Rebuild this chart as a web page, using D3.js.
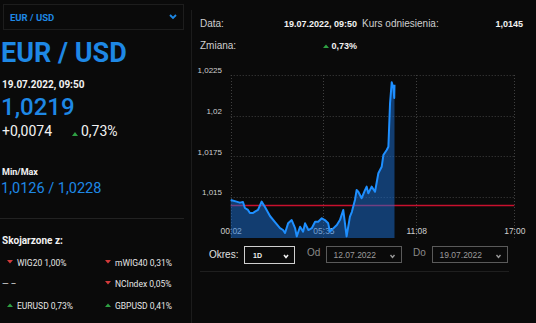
<!DOCTYPE html>
<html>
<head>
<meta charset="utf-8">
<script src="https://cdn.jsdelivr.net/npm/d3@7"></script>
<style>
  html, body { margin: 0; padding: 0; background: #0a0a0a; }
  svg { display: block; }
</style>
</head>
<body>
<svg id="view" width="536" height="323"></svg>
<script>
// Intraday EUR/USD quotes, 19.07.2022
const times = ["00:02","00:23","00:35","00:46","00:53","01:04","01:11","01:22","01:29","01:40",
  "01:53","02:05","02:23","02:41","02:59","03:10","03:17","03:28","03:41","03:53",
  "03:59","04:11","04:22","04:29","04:41","04:53","05:05","05:16","05:29","05:40",
  "05:52","05:58","06:23","06:34","06:46","06:58","07:10","07:17","07:28","07:34",
  "07:40","07:46","07:52","08:04","08:10","08:16","08:28","08:40","08:52","09:04",
  "09:10","09:22","09:28","09:34","09:40","09:46","09:49","09:50"];
const quotes = [1.01483,1.01473,1.01467,1.01471,1.01434,1.01422,1.01403,1.01403,1.01412,1.01422,
  1.01473,1.01440,1.01385,1.01348,1.01311,1.01299,1.01281,1.01340,1.01360,1.01311,
  1.01260,1.01319,1.01289,1.01340,1.01299,1.01310,1.01350,1.01350,1.01371,1.01360,
  1.01340,1.01289,1.01330,1.01360,1.01422,1.01260,1.01381,1.01411,1.01483,1.01544,
  1.01534,1.01514,1.01494,1.01544,1.01565,1.01524,1.01565,1.01534,1.01647,1.01687,
  1.01759,1.01790,1.01810,1.02078,1.02205,1.02170,1.02109,1.02190];
const referenceRate = 1.0145;
const yTicks = [1.015, 1.0175, 1.02, 1.0225];
const xTicks = ["00:02","05:35","11:08","17:00"];
const sessionStart = "00:02", sessionEnd = "17:00";

const related = [
  { name: "WIG20", change: "1,00%", dir: "down" },
  { name: "mWIG40", change: "0,31%", dir: "down" },
  { name: "— –", change: "", dir: null },
  { name: "NCIndex", change: "0,05%", dir: "down" },
  { name: "EURUSD", change: "0,73%", dir: "up" },
  { name: "GBPUSD", change: "0,41%", dir: "up" }
];

const BLUE = "#1e88e5", GREEN = "#2ea043", RED = "#d23a3a";
const parseT = d3.timeParse("%H:%M");
const plLocale = d3.formatLocale({ decimal: ",", thousands: " ", grouping: [3], currency: ["", " zł"] });
const fmtTick = v => plLocale.format(".4~f")(v);

const svg = d3.select("#view");
const roboto = "Roboto, 'Noto Sans', sans-serif";
const arial = "'Liberation Sans', Arial, sans-serif";

// ---------- left panel ----------
const left = svg.append("g");
left.append("rect").attr("x", 3.5).attr("y", 4.5).attr("width", 180).attr("height", 25)
  .attr("fill", "#0a0a0a").attr("stroke", "#1d1d1d");
left.append("text").attr("x", 10).attr("y", 20.5).text("EUR / USD")
  .attr("font-family", roboto).attr("font-weight", 700).attr("font-size", 9.5).attr("fill", BLUE);
left.append("path").attr("d", "M170,15 L173,18 L176,15").attr("fill", "none")
  .attr("stroke", BLUE).attr("stroke-width", 1.8);

left.append("text").attr("x", 1).attr("y", 62).text("EUR / USD")
  .attr("font-family", roboto).attr("font-weight", 700).attr("font-size", 27).attr("fill", BLUE);
left.append("text").attr("x", 2).attr("y", 88).text("19.07.2022, 09:50")
  .attr("font-family", roboto).attr("font-weight", 700).attr("font-size", 10).attr("fill", "#f2f2f2");
left.append("text").attr("x", 1).attr("y", 115).text("1,0219")
  .attr("font-family", roboto).attr("font-weight", 500).attr("font-size", 24).attr("fill", BLUE);
left.append("text").attr("x", 2).attr("y", 136).text("+0,0074")
  .attr("font-family", roboto).attr("font-size", 14).attr("fill", "#f2f2f2");
left.append("path").attr("d", "M72,136 L75,132 L78,136 Z").attr("fill", GREEN);
left.append("text").attr("x", 81).attr("y", 136).text("0,73%")
  .attr("font-family", roboto).attr("font-size", 14).attr("fill", "#f2f2f2");
left.append("text").attr("x", 2).attr("y", 175).text("Min/Max")
  .attr("font-family", roboto).attr("font-weight", 700).attr("font-size", 9).attr("fill", "#f2f2f2");
left.append("text").attr("x", 1).attr("y", 193).text("1,0126 / 1,0228")
  .attr("font-family", roboto).attr("font-size", 14.5).attr("fill", BLUE);
left.append("line").attr("x1", 0).attr("x2", 184).attr("y1", 218.5).attr("y2", 218.5)
  .attr("stroke", "#222");
left.append("text").attr("x", 2).attr("y", 244).text("Skojarzone z:")
  .attr("font-family", roboto).attr("font-weight", 700).attr("font-size", 10).attr("fill", "#f2f2f2");

const rowY = [266, 287, 309];
related.forEach((r, i) => {
  const col = i % 2, row = Math.floor(i / 2);
  const x0 = col === 0 ? 7 : 105, y0 = rowY[row];
  const g = left.append("g");
  if (r.dir === "down") {
    g.append("path").attr("d", `M${x0},${y0-6} L${x0+6},${y0-6} L${x0+3},${y0-2.5} Z`).attr("fill", RED);
  } else if (r.dir === "up") {
    g.append("path").attr("d", `M${x0},${y0-2} L${x0+6},${y0-2} L${x0+3},${y0-5.5} Z`).attr("fill", GREEN);
  }
  g.append("text").attr("x", r.dir ? x0 + 10 : 2).attr("y", y0)
    .text(r.change ? `${r.name} ${r.change}` : r.name)
    .attr("font-family", roboto).attr("font-size", 8.5).attr("fill", "#e6e6e6");
});

// ---------- right panel ----------
svg.append("line").attr("x1", 191.5).attr("x2", 191.5).attr("y1", 10).attr("y2", 323).attr("stroke", "#1c1c1c");

const hdr = svg.append("g").attr("font-family", arial).attr("font-size", 10);
hdr.append("text").attr("x", 200).attr("y", 27).text("Data:").attr("fill", "#cfcfcf");
hdr.append("text").attr("x", 357).attr("y", 27).attr("text-anchor", "end").text("19.07.2022, 09:50")
  .attr("font-weight", 700).attr("font-size", 9).attr("fill", "#f2f2f2");
hdr.append("text").attr("x", 362).attr("y", 27).text("Kurs odniesienia:").attr("fill", "#cfcfcf");
hdr.append("text").attr("x", 523).attr("y", 27).attr("text-anchor", "end").text(fmtTick(referenceRate))
  .attr("font-weight", 700).attr("font-size", 9).attr("fill", "#f2f2f2");
hdr.append("text").attr("x", 200).attr("y", 49).text("Zmiana:").attr("fill", "#cfcfcf");
hdr.append("path").attr("d", "M323,48 L326,44.5 L329,48 Z").attr("fill", GREEN);
hdr.append("text").attr("x", 357).attr("y", 49).attr("text-anchor", "end").text("0,73%")
  .attr("font-weight", 700).attr("font-size", 9).attr("fill", "#f2f2f2");

// ---------- chart ----------
const x = d3.scaleTime().domain([parseT(sessionStart), parseT(sessionEnd)]).range([230.7, 514.3]);
const y = d3.scaleLinear().domain([1.0125, 1.0225]).range([238, 75]);
const data = times.map((t, i) => ({ t: parseT(t), v: quotes[i] }));

const chart = svg.append("g");
const grid = chart.append("g").attr("stroke", "#404040").attr("stroke-dasharray", "1,2").attr("stroke-width", 1);
yTicks.forEach(v => grid.append("line").attr("x1", x.range()[0]).attr("x2", x.range()[1])
  .attr("y1", Math.round(y(v)) + 0.5).attr("y2", Math.round(y(v)) + 0.5));
xTicks.forEach(t => grid.append("line").attr("x1", Math.round(x(parseT(t))) + 0.5).attr("x2", Math.round(x(parseT(t))) + 0.5)
  .attr("y1", y.range()[1]).attr("y2", y.range()[0]));

// y-axis labels sit just above their gridlines
const yAxis = d3.axisLeft(y).tickValues(yTicks).tickFormat(fmtTick).tickSize(0).tickPadding(0);
const yg = chart.append("g").attr("transform", "translate(222,-5)").call(yAxis);
yg.select(".domain").remove();
yg.selectAll("text").attr("font-family", arial).attr("font-size", 8).attr("fill", "#cfcfcf");

const xAxis = d3.axisBottom(x).tickValues(xTicks.map(parseT)).tickFormat(d3.timeFormat("%H:%M")).tickSize(0).tickPadding(0);
const xg = chart.append("g").attr("transform", "translate(0,228)").call(xAxis);
xg.select(".domain").remove();
xg.selectAll("text").attr("font-family", arial).attr("font-size", 8.5).attr("fill", "#cfcfcf");

// reference rate
chart.append("line").attr("x1", x.range()[0]).attr("x2", x.range()[1])
  .attr("y1", y(referenceRate)).attr("y2", y(referenceRate))
  .attr("stroke", "#c8102e").attr("stroke-width", 1.5);

const area = d3.area().x(d => x(d.t)).y0(y.range()[0]).y1(d => y(d.v));
chart.append("path").datum(data).attr("d", area).attr("fill", "#1a6fd6").attr("fill-opacity", 0.5);
const line = d3.line().x(d => x(d.t)).y(d => y(d.v));
chart.append("path").datum(data).attr("d", line).attr("fill", "none")
  .attr("stroke", "#1e8fff").attr("stroke-width", 2).attr("stroke-linejoin", "round");

// ---------- period controls ----------
const ctl = svg.append("g").attr("font-family", arial);
ctl.append("text").attr("x", 209).attr("y", 258).text("Okres:").attr("font-size", 10).attr("fill", "#e0e0e0");
ctl.append("rect").attr("x", 244.5).attr("y", 246.5).attr("width", 50).attr("height", 17)
  .attr("fill", "#0a0a0a").attr("stroke", "#cfcfcf");
ctl.append("text").attr("x", 253).attr("y", 258).text("1D").attr("font-size", 7).attr("font-weight", 700).attr("fill", "#f0f0f0");
ctl.append("path").attr("d", "M284,255 L286,257.5 L288,255").attr("fill", "none").attr("stroke", "#f0f0f0").attr("stroke-width", 1.6);

[["Od", 307, 326.5, "12.07.2022"], ["Do", 413, 432.5, "19.07.2022"]].forEach(([lab, lx, bx, date]) => {
  ctl.append("text").attr("x", lx).attr("y", 256).text(lab).attr("font-size", 10).attr("fill", "#8a8a8a");
  ctl.append("rect").attr("x", bx).attr("y", 246.5).attr("width", 75).attr("height", 16)
    .attr("fill", "#0a0a0a").attr("stroke", "#5a5a5a");
  ctl.append("text").attr("x", bx + 7).attr("y", 258).text(date).attr("font-size", 8.5).attr("fill", "#9a9a9a");
  ctl.append("path").attr("d", `M${bx+64},255 L${bx+66},257.5 L${bx+68},255`).attr("fill", "none")
    .attr("stroke", "#9a9a9a").attr("stroke-width", 1.4);
});
svg.append("line").attr("x1", 200).attr("x2", 509).attr("y1", 271.5).attr("y2", 271.5).attr("stroke", "#1f1f1f");
</script>
</body>
</html>
